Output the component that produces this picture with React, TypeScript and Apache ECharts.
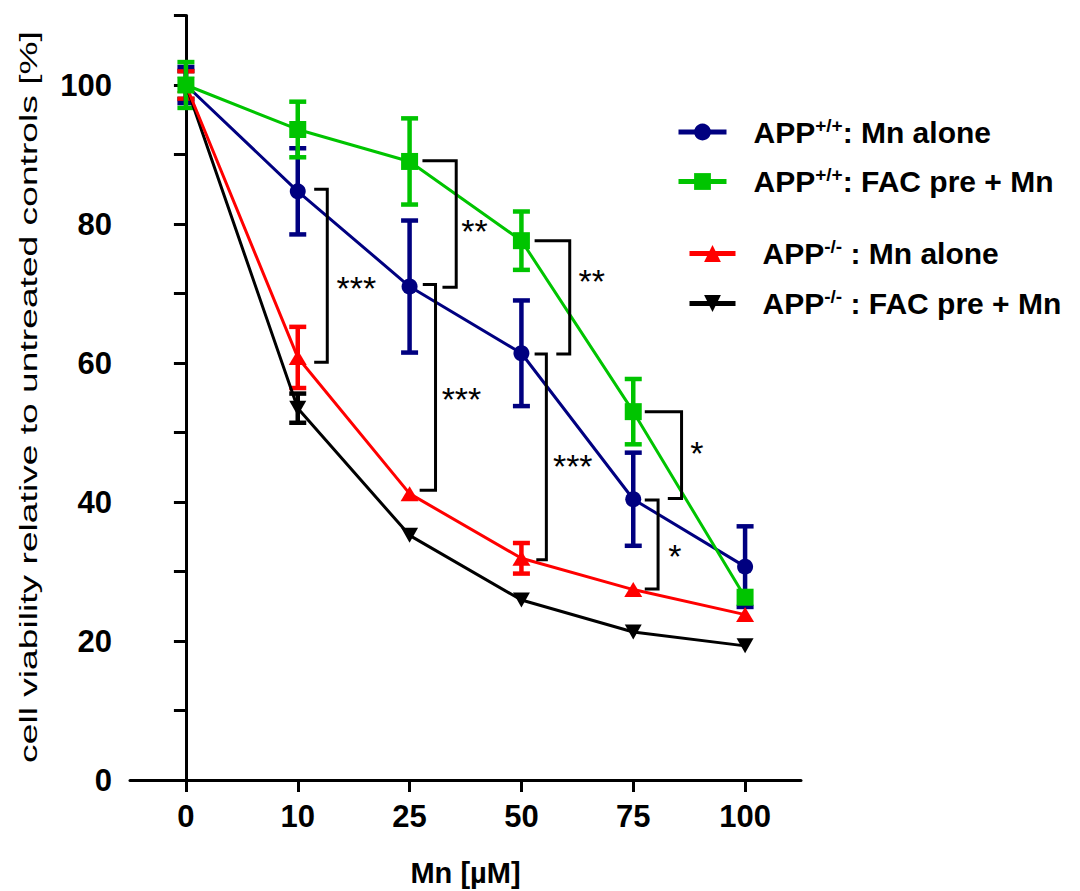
import React, { useEffect, useRef } from 'react';
import * as echarts from 'echarts';

const FONT = '"Liberation Sans", Arial, sans-serif';

// x categories (Mn concentration, µM)
const categories = ['0', '10', '25', '50', '75', '100'];

// series means and error bars (cell viability, %)
const blueMean = [100, 84.7, 71.0, 61.4, 40.4, 30.7];
const blueErr = [2.6, 6.2, 9.5, 7.6, 6.7, 5.8];
const greenMean = [100, 93.6, 89.0, 77.6, 53.0, 26.3];
const greenErr = [3.3, 4.0, 6.2, 4.2, 4.7, 0];
const redMean = [100, 60.8, 41.2, 31.9, 27.4, 23.8];
const redErr = [2.0, 4.4, 0, 2.2, 0, 0];
const blackMean = [100, 53.5, 35.2, 25.9, 21.3, 19.3];
const blackErr = [2.0, 2.1, 0, 0, 0, 0];

// series names
const nameBlue = 'APP+/+: Mn alone';
const nameGreen = 'APP+/+: FAC pre + Mn';
const nameRed = 'APP-/-: Mn alone';
const nameBlack = 'APP-/-: FAC pre + Mn';

// significance brackets (x in category-index units, y in %)
const bracketX = [1.264, 2.417, 2.232, 3.432, 3.223, 4.432, 4.222];
const bracketTop = [85.0, 89.1, 71.3, 77.6, 61.3, 53.0, 40.3];
const bracketBottom = [60.1, 70.9, 41.7, 61.3, 31.7, 40.5, 27.5];
const bracketArmTop = [1.147, 2.115, 2.118, 3.118, 3.118, 4.103, 4.103];
const bracketArmBottom = [1.147, 2.294, 2.09, 3.312, 3.133, 4.309, 4.103];

// significance stars
const starX = [1.525, 2.581, 2.464, 3.629, 3.459, 4.569, 4.372];
const starY = [71.9, 80.2, 55.9, 72.9, 46.3, 48.2, 33.4];
const starText = ['***', '**', '***', '**', '***', '*', '*'];

const COLORS = {
  blue: '#000080',
  green: '#00c400',
  red: '#ff0000',
  black: '#000000',
};

function errorSeries(mean: number[], err: number[], color: string, z: number) {
  return {
    type: 'custom',
    xAxisIndex: 0,
    yAxisIndex: 0,
    z,
    silent: true,
    data: mean.map((m, i) => [i, m - err[i], m + err[i]]),
    encode: { x: 0, y: [1, 2] },
    renderItem: (params: any, api: any) => {
      const x = api.value(0);
      if (api.value(2) - api.value(1) <= 0) return null;
      const lo = api.coord([x, api.value(1)]);
      const hi = api.coord([x, api.value(2)]);
      const hw = 8.5;
      const style = { stroke: color, lineWidth: 4.5 };
      return {
        type: 'group',
        children: [
          { type: 'line', shape: { x1: lo[0], y1: lo[1], x2: hi[0], y2: hi[1] }, style },
          { type: 'line', shape: { x1: lo[0] - hw, y1: lo[1], x2: lo[0] + hw, y2: lo[1] }, style },
          { type: 'line', shape: { x1: hi[0] - hw, y1: hi[1], x2: hi[0] + hw, y2: hi[1] }, style },
        ],
      };
    },
  };
}

function lineSeries(name: string, data: number[], color: string, symbol: string, size: any) {
  return {
    type: 'line',
    name,
    data,
    z: 3,
    symbol,
    symbolSize: size,
    showAllSymbol: true,
    lineStyle: { color, width: 3 },
    itemStyle: { color, borderWidth: 0 },
    emphasis: { disabled: true },
  };
}

const legendRich = {
  b: { fontSize: 30, fontWeight: 'bold', fontFamily: FONT, color: '#000', lineHeight: 32 },
  sup: { fontSize: 19, fontWeight: 'bold', fontFamily: FONT, color: '#000', lineHeight: 18, padding: [0, 0, 14, 0] },
};

const legendLabel: Record<string, string> = {
  [nameBlue]: '{b|APP}{sup|+/+}{b|: Mn alone}',
  [nameGreen]: '{b|APP}{sup|+/+}{b|: FAC pre + Mn}',
  [nameRed]: '{b|APP}{sup|-/-}{b| : Mn alone}',
  [nameBlack]: '{b|APP}{sup|-/-}{b| : FAC pre + Mn}',
};

export default function App() {
  const ref = useRef<HTMLDivElement>(null);

  useEffect(() => {
    const chart = echarts.init(ref.current as HTMLDivElement, null, { renderer: 'svg' });
    const legendCommon = {
      orient: 'vertical',
      padding: 0,
      itemHeight: 21,
      selectedMode: false,
      formatter: (n: string) => legendLabel[n],
      lineStyle: { width: 5 },
      textStyle: { padding: [0, 0, 0, 22], rich: legendRich },
    };
    const option: any = {
      animation: false,
      backgroundColor: '#ffffff',
      grid: { left: 130, right: 279, top: 15.5, bottom: 111, outerBoundsMode: 'none' },
      xAxis: [
        {
          type: 'category',
          data: categories,
          boundaryGap: true,
          axisLine: { show: true, lineStyle: { color: '#000', width: 3 } },
          axisTick: { show: true, alignWithLabel: true, length: 12, lineStyle: { color: '#000', width: 3 } },
          axisLabel: { color: '#000', fontSize: 31, fontWeight: 'bold', fontFamily: FONT, margin: 21 },
          splitLine: { show: false },
          name: 'Mn [µM]',
          nameLocation: 'middle',
          nameGap: 78,
          nameTextStyle: { color: '#000', fontSize: 29, fontWeight: 'bold', fontFamily: FONT },
        },
        {
          type: 'value',
          min: -0.5,
          max: 5.5,
          show: false,
        },
      ],
      yAxis: {
        type: 'value',
        min: 0,
        max: 110,
        interval: 10,
        axisLine: { show: true, lineStyle: { color: '#000', width: 3 } },
        axisTick: { show: true, length: 12, lineStyle: { color: '#000', width: 3 } },
        axisLabel: {
          color: '#000',
          fontSize: 31,
          fontWeight: 'bold',
          fontFamily: FONT,
          margin: 18,
          formatter: (v: number) => (v % 20 === 0 ? String(v) : ''),
        },
        splitLine: { show: false },
      },
      legend: [
        {
          ...legendCommon,
          data: [nameBlue, nameGreen],
          left: 676,
          top: 115.5,
          itemWidth: 48,
          itemGap: 16.5,
        },
        {
          ...legendCommon,
          data: [nameRed, nameBlack],
          left: 687,
          top: 237,
          itemWidth: 46,
          itemGap: 17,
        },
      ],
      graphic: [
        {
          type: 'text',
          x: 29,
          y: 397,
          rotation: Math.PI / 2,
          scaleX: 1.55,
          style: {
            text: 'cell viability relative to untreated controls [%]',
            fontSize: 24,
            fontFamily: FONT,
            fill: '#000',
            align: 'center',
            verticalAlign: 'middle',
          },
        },
      ],
      series: [
        errorSeries(blackMean, blackErr, COLORS.black, 2),
        errorSeries(redMean, redErr, COLORS.red, 2),
        errorSeries(blueMean, blueErr, COLORS.blue, 2),
        errorSeries(greenMean, greenErr, COLORS.green, 2),
        lineSeries(nameBlack, blackMean, COLORS.black, 'path://M0,0L10,0L5,9Z', [17, 15]),
        lineSeries(nameRed, redMean, COLORS.red, 'triangle', [18, 15]),
        lineSeries(nameBlue, blueMean, COLORS.blue, 'circle', 16),
        lineSeries(nameGreen, greenMean, COLORS.green, 'rect', 17),
        {
          type: 'custom',
          xAxisIndex: 1,
          yAxisIndex: 0,
          z: 4,
          silent: true,
          data: bracketX.map((x, i) => [x, bracketTop[i], bracketBottom[i], bracketArmTop[i], bracketArmBottom[i]]),
          encode: { x: 0, y: [1, 2] },
          renderItem: (params: any, api: any) => {
            const a = api.coord([api.value(3), api.value(1)]);
            const b = api.coord([api.value(0), api.value(1)]);
            const c = api.coord([api.value(0), api.value(2)]);
            const d = api.coord([api.value(4), api.value(2)]);
            return {
              type: 'polyline',
              shape: { points: [a, b, c, d] },
              style: { stroke: '#000', lineWidth: 3, fill: null },
            };
          },
        },
        {
          type: 'custom',
          xAxisIndex: 1,
          yAxisIndex: 0,
          z: 4,
          silent: true,
          data: starX.map((x, i) => [x, starY[i]]),
          encode: { x: 0, y: 1 },
          renderItem: (params: any, api: any) => {
            const p = api.coord([api.value(0), api.value(1)]);
            return {
              type: 'text',
              x: p[0],
              y: p[1] + 8,
              style: {
                text: starText[params.dataIndex],
                fontSize: 34,
                fontFamily: FONT,
                fill: '#000',
                align: 'center',
                verticalAlign: 'middle',
              },
            };
          },
        },
      ],
    };
    chart.setOption(option);
    return () => chart.dispose();
  }, []);

  return (
    <div
      ref={ref}
      style={{ position: 'fixed', left: 0, top: 0, width: 1080, height: 891, background: '#fff' }}
    />
  );
}
